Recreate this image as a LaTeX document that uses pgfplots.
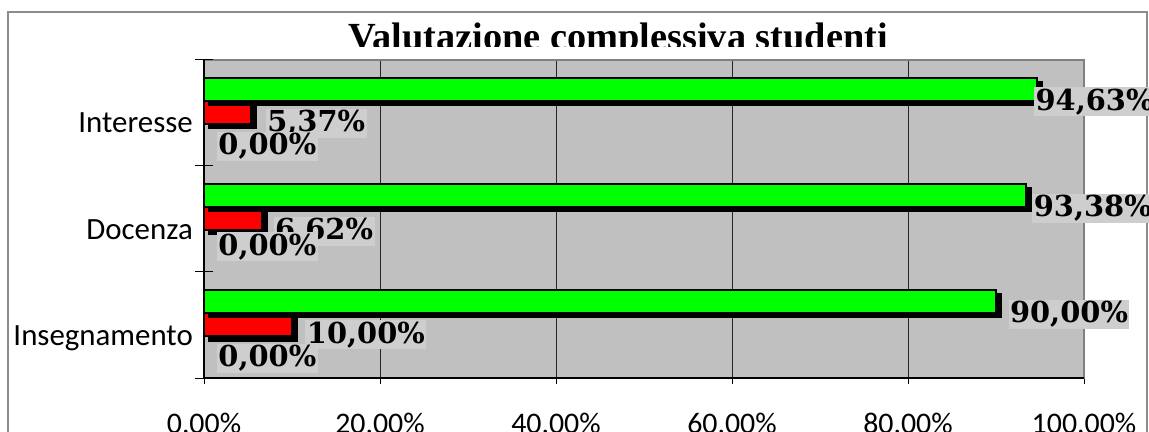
\documentclass[border=0pt]{standalone}
\usepackage{pgfplots}
\pgfplotsset{compat=1.18}
\usepackage{fontspec}
\setmainfont{Carlito}
\newfontfamily\titlefont{Liberation Serif}
\newfontfamily\lblfont{DejaVu Serif}
\definecolor{plotbg}{RGB}{192,192,192}
\definecolor{lblbg}{RGB}{206,206,206}
\definecolor{framegray}{RGB}{140,140,140}
\definecolor{exgreen}{RGB}{0,255,0}
\definecolor{exred}{RGB}{255,0,0}
\tikzset{lbl/.style={font=\lblfont\bfseries\fontsize{29}{29}\selectfont, fill=lblbg, inner sep=1.5bp, anchor=base west}}
\begin{document}
\begin{tikzpicture}
\useasboundingbox (0bp,0bp) rectangle (1149bp,432bp);
\clip (0bp,0bp) rectangle (1149bp,432bp);
\fill[white] (0bp,0bp) rectangle (1149bp,432bp);
\draw[framegray, line width=1.5bp] (8bp,-5bp) -- (8bp,420bp) -- (1147bp,420bp) -- (1147bp,-5bp);
\begin{scope}
\clip (0bp,385bp) rectangle (1149bp,432bp);
\node[anchor=base west, inner sep=0pt] at (348bp,382bp) {\titlefont\bfseries\fontsize{38.5}{38.5}\selectfont Valutazione complessiva studenti};
\end{scope}
\begin{axis}[
 at={(204bp,54bp)}, anchor=south west,
 width=880bp, height=318bp, scale only axis,
 clip=false,
 xbar, bar width=23bp,
 xmin=0, xmax=100, ymin=-0.5, ymax=2.5,
 axis background/.style={fill=plotbg},
 axis line style={draw=black!50, line width=1.5bp},
 xtick={0,20,...,100},
 xticklabels={{0,00\%},{20,00\%},{40,00\%},{60,00\%},{80,00\%},{100,00\%}},
 xtick pos=bottom, tick align=outside, major tick length=6bp,
 xtick style={black, line width=1bp},
 xmajorgrids, major grid style={black!85, line width=0.9bp},
 xticklabel style={anchor=base, inner sep=0pt, yshift=-49bp, font=\fontsize{30}{30}\selectfont},
 ytick={0,1,2}, yticklabels={Insegnamento,Docenza,Interesse},
 ytick style={draw=none},
 yticklabel style={anchor=base east, inner sep=0pt, xshift=-5bp, yshift=-20bp, font=\fontsize{31}{31}\selectfont},
]
\addplot[draw=none, fill=none, bar shift=-23bp] coordinates {(0,0) (0,1) (0,2)};
\addplot[fill=exred, draw=black, line width=2bp, bar shift=0bp,
  preaction={fill=black, draw=black, transform canvas={shift={(5bp,-4bp)}}}]
  coordinates {(10,0) (6.62,1) (5.37,2)};
\addplot[fill=exgreen, draw=black, line width=2bp, bar shift=23bp,
  preaction={fill=black, draw=black, transform canvas={shift={(5bp,-4bp)}}}]
  coordinates {(90,0) (93.38,1) (94.63,2)};
\draw[black, line width=1.2bp] (rel axis cs:0,1) -- (rel axis cs:0,0) -- (rel axis cs:1,0);
\draw[black, line width=1bp] ([xshift=-9bp]axis cs:0,2.5) -- ([xshift=9bp]axis cs:0,2.5);
\draw[black, line width=1bp] ([xshift=-9bp]axis cs:0,1.5) -- ([xshift=9bp]axis cs:0,1.5);
\draw[black, line width=1bp] ([xshift=-9bp]axis cs:0,0.5) -- ([xshift=9bp]axis cs:0,0.5);
\draw[black, line width=1bp] ([xshift=-9bp]axis cs:0,-0.5) -- ([xshift=9bp]axis cs:0,-0.5);
\node[lbl] at (axis cs:94.3,2.028) {94,63\%};
\node[lbl] at (axis cs:7.0,1.821) {5,37\%};
\node[lbl] at (axis cs:1.45,1.604) {0,00\%};
\node[lbl] at (axis cs:94.1,1.019) {93,38\%};
\node[lbl] at (axis cs:7.9,0.802) {6,62\%};
\node[lbl] at (axis cs:1.45,0.660) {0,00\%};
\node[lbl] at (axis cs:91.4,0.019) {90,00\%};
\node[lbl] at (axis cs:11.5,-0.170) {10,00\%};
\node[lbl] at (axis cs:1.45,-0.396) {0,00\%};
\end{axis}
\end{tikzpicture}
\end{document}
